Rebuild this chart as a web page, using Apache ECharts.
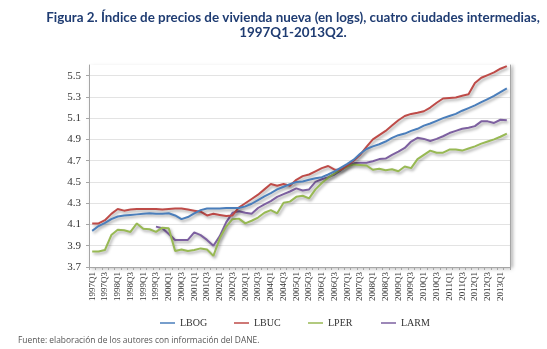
<!DOCTYPE html>
<html>
<head>
<meta charset="utf-8">
<script src="https://cdn.jsdelivr.net/npm/echarts@6/dist/echarts.min.js"></script>
<style>
  html, body { margin: 0; padding: 0; background: #fff; }
  #chart { width: 547px; height: 349px; }
</style>
</head>
<body>
<div id="chart"></div>
<script>
// Quarterly categories 1997Q1 .. 2013Q2
const quarters = [];
for (let y = 1997; y <= 2013; y++) {
  for (let q = 1; q <= 4; q++) {
    if (y === 2013 && q > 2) break;
    quarters.push(y + 'Q' + q);
  }
}

// Log price index of new housing, by city
const LBOG = [4.04, 4.085, 4.115, 4.15, 4.175, 4.185, 4.19, 4.195, 4.2, 4.205,
  4.2, 4.2, 4.205, 4.185, 4.15, 4.17, 4.205, 4.235, 4.25, 4.25,
  4.25, 4.255, 4.255, 4.255, 4.27, 4.295, 4.33, 4.365, 4.395, 4.43,
  4.455, 4.48, 4.5, 4.505, 4.52, 4.535, 4.545, 4.57, 4.6, 4.635,
  4.67, 4.71, 4.765, 4.81, 4.835, 4.855, 4.88, 4.915, 4.94, 4.955,
  4.98, 5.0, 5.03, 5.05, 5.075, 5.1, 5.12, 5.14, 5.17, 5.195,
  5.22, 5.25, 5.28, 5.31, 5.345, 5.38];

const LBUC = [4.11, 4.11, 4.14, 4.2, 4.245, 4.23, 4.24, 4.245, 4.245, 4.245,
  4.245, 4.24, 4.245, 4.25, 4.25, 4.24, 4.23, 4.22, 4.185, 4.2,
  4.19, 4.18, 4.185, 4.26, 4.3, 4.34, 4.38, 4.43, 4.48, 4.465,
  4.48, 4.465, 4.52, 4.555, 4.57, 4.6, 4.63, 4.65, 4.615, 4.615,
  4.655, 4.7, 4.755, 4.83, 4.9, 4.94, 4.98, 5.03, 5.08, 5.12,
  5.14, 5.15, 5.165, 5.2, 5.245, 5.285, 5.29, 5.295, 5.31, 5.325,
  5.43, 5.48, 5.505, 5.53, 5.565, 5.59];

const LPER = [3.845, 3.845, 3.86, 4.0, 4.05, 4.045, 4.03, 4.11, 4.06, 4.055,
  4.03, 4.07, 4.065, 3.85, 3.865, 3.85, 3.86, 3.875, 3.865, 3.805,
  3.97, 4.08, 4.15, 4.155, 4.11, 4.135, 4.165, 4.21, 4.235, 4.205,
  4.305, 4.315, 4.36, 4.37, 4.345, 4.43, 4.49, 4.54, 4.58, 4.615,
  4.645, 4.665, 4.66, 4.655, 4.615, 4.625, 4.61, 4.62, 4.6, 4.645,
  4.63, 4.715, 4.755, 4.795, 4.775, 4.775, 4.805, 4.805, 4.795, 4.815,
  4.835, 4.86, 4.88, 4.9, 4.925, 4.955];

const LARM = [null, null, null, null, null, null, null, null, null, null,
  4.08, 4.065, 4.01, 3.955, 3.955, 3.955, 4.025, 4.0, 3.955, 3.9,
  3.99, 4.12, 4.21, 4.225, 4.21, 4.2, 4.255, 4.29, 4.32, 4.36,
  4.385, 4.41, 4.44, 4.42, 4.43, 4.5, 4.525, 4.545, 4.57, 4.61,
  4.655, 4.675, 4.68, 4.68, 4.695, 4.715, 4.72, 4.755, 4.785, 4.82,
  4.88, 4.915, 4.905, 4.885, 4.905, 4.93, 4.96, 4.98, 5.0, 5.01,
  5.025, 5.07, 5.07, 5.055, 5.085, 5.08];

const seriesNames = ['LBOG', 'LBUC', 'LPER', 'LARM'];
const seriesData = [LBOG, LBUC, LPER, LARM];
const seriesColors = ['#4a7ebb', '#be4b48', '#98b954', '#7d60a0'];
const legendLeft = [155, 229, 303, 376];

const yMin = 3.7, yMax = 5.6, yStep = 0.2;

const serif = '"Liberation Serif", "DejaVu Serif", serif';

const chart = echarts.init(document.getElementById('chart'), null, { renderer: 'canvas' });

const legends = seriesNames.map((name, i) => ({
  data: [name],
  left: legendLeft[i],
  top: 313,
  icon: 'rect',
  itemWidth: 15,
  itemHeight: 1.5,
  textStyle: { fontFamily: serif, fontSize: 10, color: '#333' },
  selectedMode: false
}));

chart.setOption({
  animation: false,
  backgroundColor: '#fff',
  title: [
    {
      text: 'Figura 2. Índice de precios de vivienda nueva (en logs), cuatro ciudades intermedias,\n1997Q1-2013Q2.',
      left: 288,
      top: 5,
      textAlign: 'center',
      textStyle: {
        fontFamily: 'Lato, "Open Sans", sans-serif',
        fontWeight: 'bold',
        fontSize: 13.4,
        lineHeight: 15,
        color: '#1f3c72'
      }
    },
    {
      text: 'Fuente: elaboración de los autores con información del DANE.',
      left: 13,
      top: 332,
      textStyle: {
        fontFamily: '"Open Sans", "Noto Sans", sans-serif',
        fontWeight: 'normal',
        fontSize: 8.4,
        color: '#555'
      }
    }
  ],
  legend: legends,
  grid: {
    left: 89,
    right: 37,
    top: 65,
    bottom: 82,
    show: true,
    backgroundColor: '#fff',
    borderWidth: 0,
    shadowColor: 'rgba(0,0,0,0.25)',
    shadowBlur: 4,
    shadowOffsetX: 2,
    shadowOffsetY: 2
  },
  xAxis: {
    type: 'category',
    data: quarters,
    boundaryGap: true,
    axisLine: { lineStyle: { color: '#a6a6a6', width: 1 } },
    axisTick: { show: true, interval: 0, length: 3, lineStyle: { color: '#a6a6a6' } },
    axisLabel: {
      interval: 1,
      rotate: 90,
      margin: 5,
      fontFamily: serif,
      fontSize: 9,
      color: '#333'
    },
    splitLine: { show: false }
  },
  yAxis: [
    {
      type: 'value',
      min: yMin,
      max: yMax,
      interval: yStep,
      axisLine: { show: true, lineStyle: { color: '#a6a6a6' } },
      axisTick: { show: true, length: 3, lineStyle: { color: '#a6a6a6' } },
      axisLabel: {
        showMaxLabel: false,
        margin: 8,
        fontFamily: serif,
        fontSize: 11,
        color: '#333',
        formatter: v => v.toFixed(1)
      },
      splitLine: { show: true, showMaxLine: false, lineStyle: { color: '#e3e3e3', width: 1 } }
    },
    {
      type: 'value',
      position: 'right',
      min: yMin,
      max: yMax,
      interval: yStep,
      axisLine: {
        show: true,
        lineStyle: {
          color: '#a6a6a6',
          shadowColor: 'rgba(0,0,0,0.3)',
          shadowBlur: 3,
          shadowOffsetX: 2
        }
      },
      axisTick: { show: false },
      axisLabel: { show: false },
      splitLine: { show: false }
    }
  ],
  series: seriesNames.map((name, i) => ({
    name: name,
    type: 'line',
    data: seriesData[i],
    showSymbol: false,
    symbol: 'none',
    connectNulls: false,
    color: seriesColors[i],
    lineStyle: {
      width: 2,
      color: seriesColors[i],
      shadowColor: 'rgba(0,0,0,0.35)',
      shadowBlur: 3,
      shadowOffsetX: 1.5,
      shadowOffsetY: 2
    },
    z: 2 + (3 - i)
  }))
});
</script>
</body>
</html>
